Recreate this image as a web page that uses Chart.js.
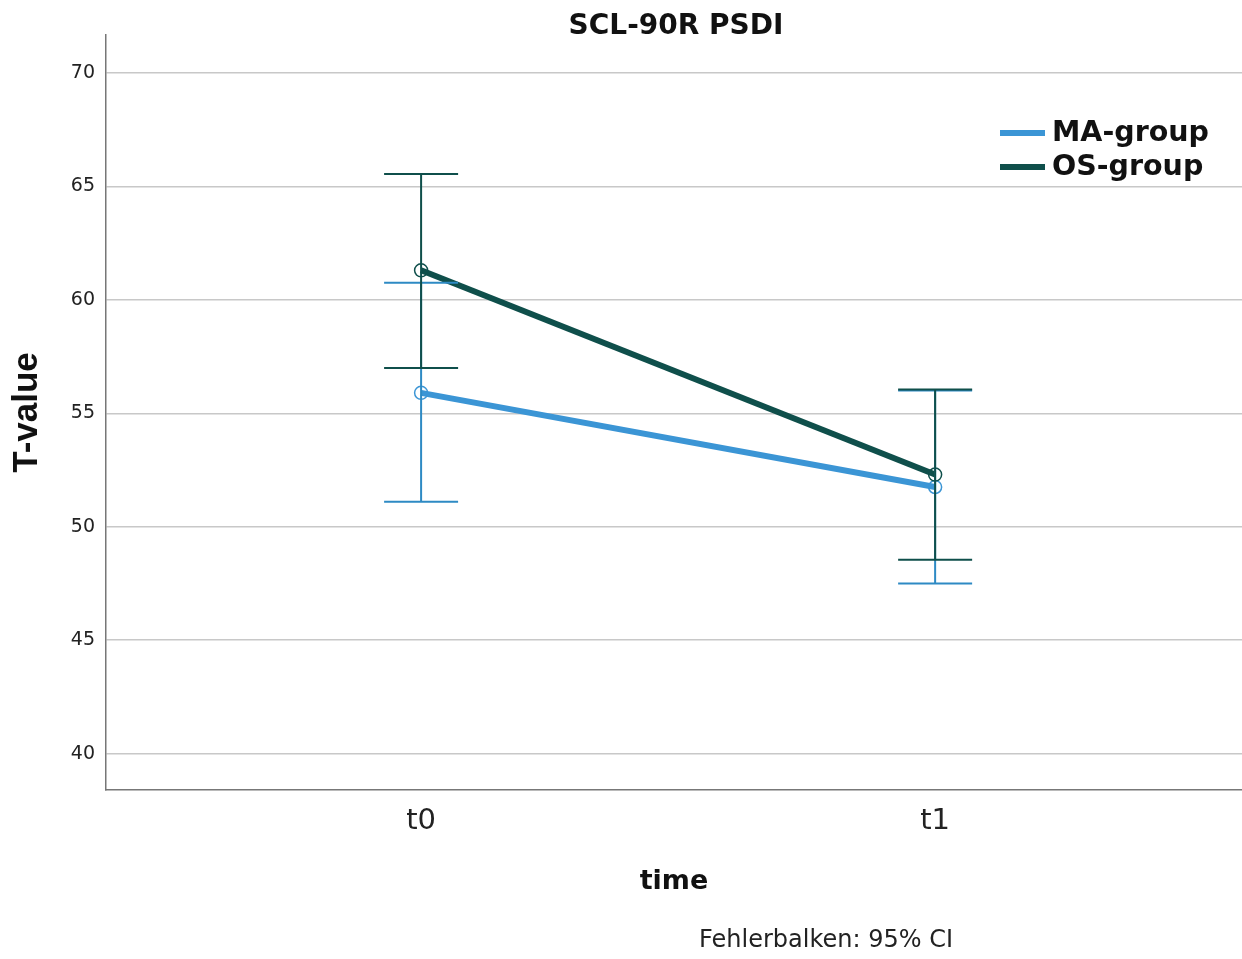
<!DOCTYPE html>
<html>
<head>
<meta charset="utf-8">
<script src="https://cdn.jsdelivr.net/npm/chart.js@4.4.0/dist/chart.umd.min.js"></script>
<style>
  body { margin: 0; background: #fff; }
  #wrap { width: 1242px; height: 959px; }
</style>
</head>
<body>
<div id="wrap"><canvas id="psdiChart" width="1242" height="959"></canvas></div>
<script>
// values
const categories = ['t0', 't1'];
const maMean = [55.9, 51.75];
const maLower = [51.1, 47.5];
const maUpper = [60.75, 56.0];
const osMean = [61.3, 52.3];
const osLower = [57.0, 48.55];
const osUpper = [65.55, 56.05];
const yTicks = [40, 45, 50, 55, 60, 65, 70];

const maColor = '#3b95d5'
const osColor = '#0f4f4b'

// error bars + legend + footnote
const extras = {
    id: 'extras',
    afterDatasetsDraw(chart) {
        const ctx = chart.ctx
        const x = chart.scales.x
        const y = chart.scales.y
        const bars = [
            {lo: maLower, hi: maUpper, color: '#2e8ac4'},
            {lo: osLower, hi: osUpper, color: osColor}
        ]
        ctx.save()
        bars.forEach(function(b){
            ctx.strokeStyle = b.color
            ctx.lineWidth = 2
            categories.forEach(function(c, i){
                const px = x.getPixelForValue(i)
                const top = y.getPixelForValue(b.hi[i])
                const bot = y.getPixelForValue(b.lo[i])
                ctx.beginPath()
                ctx.moveTo(px, top); ctx.lineTo(px, bot)
                ctx.moveTo(px - 37, top); ctx.lineTo(px + 37, top)
                ctx.moveTo(px - 37, bot); ctx.lineTo(px + 37, bot)
                ctx.stroke()
            })
        })
        ctx.restore()
    },
    afterDraw(chart) {
        const ctx = chart.ctx
        ctx.save()
        // title
        ctx.fillStyle = '#111'
        ctx.font = 'bold 28px "DejaVu Sans"'
        ctx.textAlign = 'center'
        ctx.textBaseline = 'middle'
        ctx.fillText('SCL-90R PSDI', 676, 27)

        // legend
        const items = [
            {label: chart.data.datasets[0].label, color: maColor, y: 133},
            {label: chart.data.datasets[1].label, color: osColor, y: 167}
        ]
        ctx.textAlign = 'left'
        ctx.font = 'bold 28.5px "DejaVu Sans"'
        items.forEach(function(it){
            ctx.strokeStyle = it.color
            ctx.lineWidth = 6
            ctx.beginPath()
            ctx.moveTo(1000, it.y); ctx.lineTo(1045, it.y)
            ctx.stroke()
            ctx.fillStyle = '#111'
            ctx.fillText(it.label, 1052, it.y + 1)
        })

        // footnote
        ctx.font = '24px "DejaVu Sans"'
        ctx.fillStyle = '#222'
        ctx.textAlign = 'center'
        ctx.fillText('Fehlerbalken: 95% CI', 826, 941)
        ctx.restore()
    }
}

const ctx = document.getElementById('psdiChart').getContext('2d')
const psdiChart = new Chart(ctx, {
    type: 'line',
    data: {
        datasets: [{
            label: 'MA-group',
            data: maMean.map((v, i) => ({x: i, y: v})),
            borderColor: maColor,
            borderWidth: 6,
            pointRadius: 6.5,
            pointBorderWidth: 1.5,
            pointBackgroundColor: 'rgba(0,0,0,0)',
            pointBorderColor: maColor,
            order: 2
        }, {
            label: 'OS-group',
            data: osMean.map((v, i) => ({x: i, y: v})),
            borderColor: osColor,
            borderWidth: 6,
            pointRadius: 6.5,
            pointBorderWidth: 1.5,
            pointBackgroundColor: 'rgba(0,0,0,0)',
            pointBorderColor: osColor,
            order: 1
        }]
    },
    options: {
        responsive: false,
        animation: false,
        layout: { autoPadding: false, padding: { top: 35, right: 0, left: 0, bottom: 0 } },
        plugins: {
            legend: { display: false },
            title: { display: false },
            tooltip: { enabled: false }
        },
        scales: {
            x: {
                type: 'linear',
                min: -0.613,
                max: 1.597,
                afterBuildTicks: function(scale){
                    scale.ticks = categories.map((c, i) => ({value: i}))
                },
                afterFit: function(scale){
                    scale.height = 169
                    scale.paddingLeft = 0
                    scale.paddingRight = 0
                },
                ticks: {
                    callback: (v) => categories[v],
                    font: { family: 'DejaVu Sans', size: 29 },
                    color: '#222',
                    padding: 14,
                    maxRotation: 0
                },
                grid: { display: false, drawTicks: false },
                border: { display: true, color: '#777', width: 1.5 },
                title: {
                    display: true,
                    text: 'time',
                    font: { family: 'DejaVu Sans', size: 27, weight: 'bold' },
                    color: '#111',
                    padding: { top: 0, bottom: 61 }
                }
            },
            y: {
                min: 38.4,
                max: 71.67,
                afterBuildTicks: function(scale){
                    scale.ticks = yTicks.map(v => ({value: v}))
                },
                afterFit: function(scale){ scale.width = 106 },
                ticks: {
                    font: { family: 'DejaVu Sans', size: 19 },
                    color: '#222',
                    padding: 11
                },
                grid: { color: '#c8c8c8', lineWidth: 1.5, drawTicks: false },
                border: { display: true, color: '#777', width: 1.5 },
                title: {
                    display: true,
                    text: 'T-value',
                    font: { family: '"Liberation Sans Narrow", "Liberation Sans"', size: 35, weight: 'bold' },
                    color: '#111',
                    padding: { top: 6, bottom: 0 }
                }
            }
        }
    },
    plugins: [extras]
})
</script>
</body>
</html>
